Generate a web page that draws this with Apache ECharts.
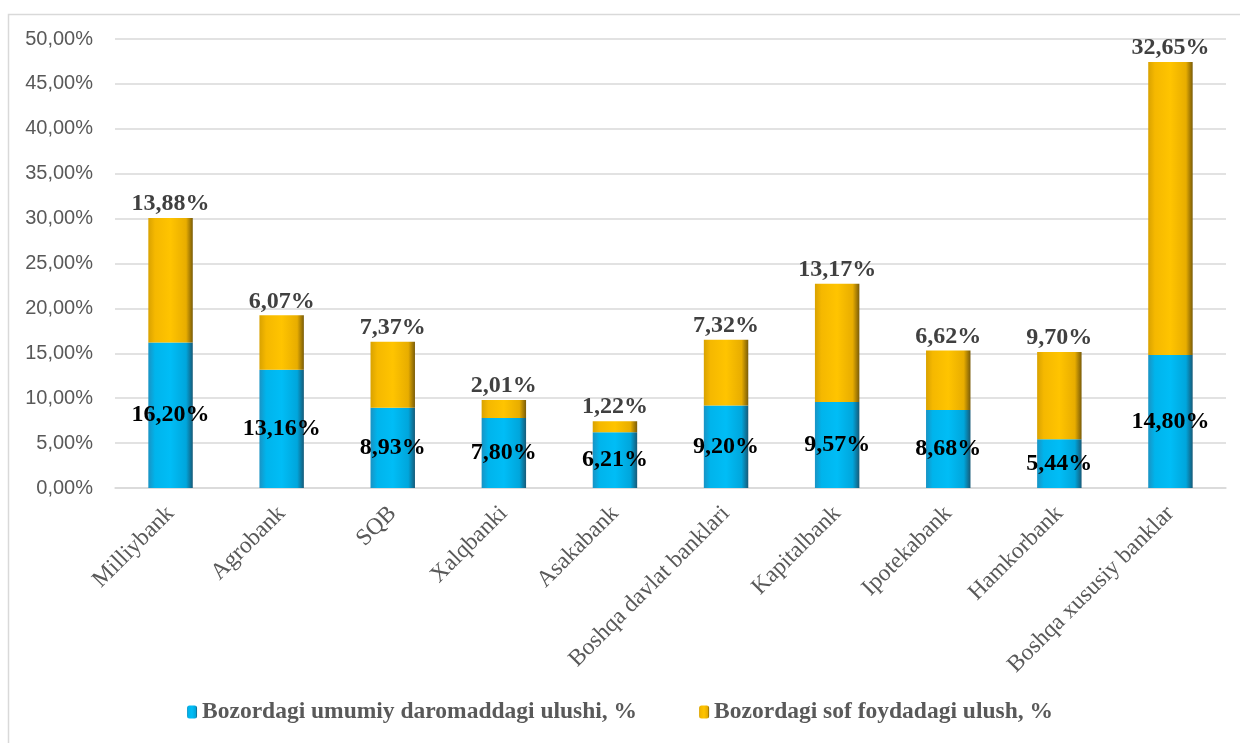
<!DOCTYPE html>
<html>
<head>
<meta charset="utf-8">
<script src="https://cdn.jsdelivr.net/npm/echarts@6/dist/echarts.min.js"></script>
<style>
  html, body { margin: 0; padding: 0; background: #fff; }
  #chart { width: 1240px; height: 743px; }
</style>
</head>
<body>
<div id="chart"></div>
<script>
var banks = ['Milliybank', 'Agrobank', 'SQB', 'Xalqbanki', 'Asakabank',
    'Boshqa davlat banklari', 'Kapitalbank', 'Ipotekabank', 'Hamkorbank', 'Boshqa xususiy banklar'];
var revenueShare = [16.20, 13.16, 8.93, 7.80, 6.21, 9.20, 9.57, 8.68, 5.44, 14.80];
var profitShare = [13.88, 6.07, 7.37, 2.01, 1.22, 7.32, 13.17, 6.62, 9.70, 32.65];
var seriesNames = ['Bozordagi umumiy daromaddagi ulushi, %', 'Bozordagi sof foydadagi ulush, %'];

function pct(v) {
    return v.toFixed(2).replace('.', ',') + '%';
}

// bevel-ish look: darker edges left/right
var blueFill = new echarts.graphic.LinearGradient(0, 0, 1, 0, [
    { offset: 0, color: '#1993c4' },
    { offset: 0.15, color: '#00b4ec' },
    { offset: 0.5, color: '#00bdf6' },
    { offset: 0.85, color: '#00a6dc' },
    { offset: 1, color: '#165a78' }
]);
var goldFill = new echarts.graphic.LinearGradient(0, 0, 1, 0, [
    { offset: 0, color: '#d9a200' },
    { offset: 0.15, color: '#f5b800' },
    { offset: 0.5, color: '#ffc400' },
    { offset: 0.85, color: '#e8ad00' },
    { offset: 1, color: '#7a5c08' }
]);

var chart = echarts.init(document.getElementById('chart'));
chart.setOption({
    backgroundColor: '#fff',
    animation: false,
    graphic: [{
        type: 'rect',
        shape: { x: 8.5, y: 14.5, width: 1260, height: 760 },
        style: { fill: 'none', stroke: '#d9d9d9', lineWidth: 1.5 },
        silent: true
    }],
    grid: { left: 115, right: 14, top: 39, bottom: 255 },
    legend: {
        bottom: 14,
        left: 'center',
        itemWidth: 10,
        itemHeight: 13,
        itemGap: 62,
        textStyle: {
            fontFamily: 'Liberation Serif',
            fontWeight: 'bold',
            fontSize: 23.5,
            color: '#595959'
        },
        data: seriesNames
    },
    xAxis: {
        type: 'category',
        data: banks,
        axisLine: { lineStyle: { color: '#d9d9d9', width: 1.5 } },
        axisTick: { show: false },
        axisLabel: {
            rotate: 45,
            interval: 0,
            margin: 22,
            fontFamily: 'Liberation Serif',
            fontSize: 23.5,
            color: '#595959'
        }
    },
    yAxis: {
        type: 'value',
        min: 0,
        max: 50,
        interval: 5,
        axisLine: { show: false },
        axisTick: { show: false },
        splitLine: { lineStyle: { color: '#d9d9d9', width: 1.5 } },
        axisLabel: {
            formatter: pct,
            margin: 22,
            fontFamily: 'Liberation Sans',
            fontSize: 20,
            color: '#595959'
        }
    },
    series: [{
        name: seriesNames[0],
        type: 'bar',
        stack: 'total',
        barWidth: '40%',
        data: revenueShare,
        itemStyle: { color: blueFill },
        label: {
            show: true,
            position: 'inside',
            formatter: function (p) { return pct(p.value); },
            fontFamily: 'Liberation Serif',
            fontWeight: 'bold',
            fontSize: 24,
            color: '#000'
        }
    }, {
        name: seriesNames[1],
        type: 'bar',
        stack: 'total',
        data: profitShare,
        itemStyle: { color: goldFill },
        label: {
            show: true,
            position: 'top',
            distance: 2,
            formatter: function (p) { return pct(p.value); },
            fontFamily: 'Liberation Serif',
            fontWeight: 'bold',
            fontSize: 24,
            color: '#404040'
        }
    }]
});
</script>
</body>
</html>
